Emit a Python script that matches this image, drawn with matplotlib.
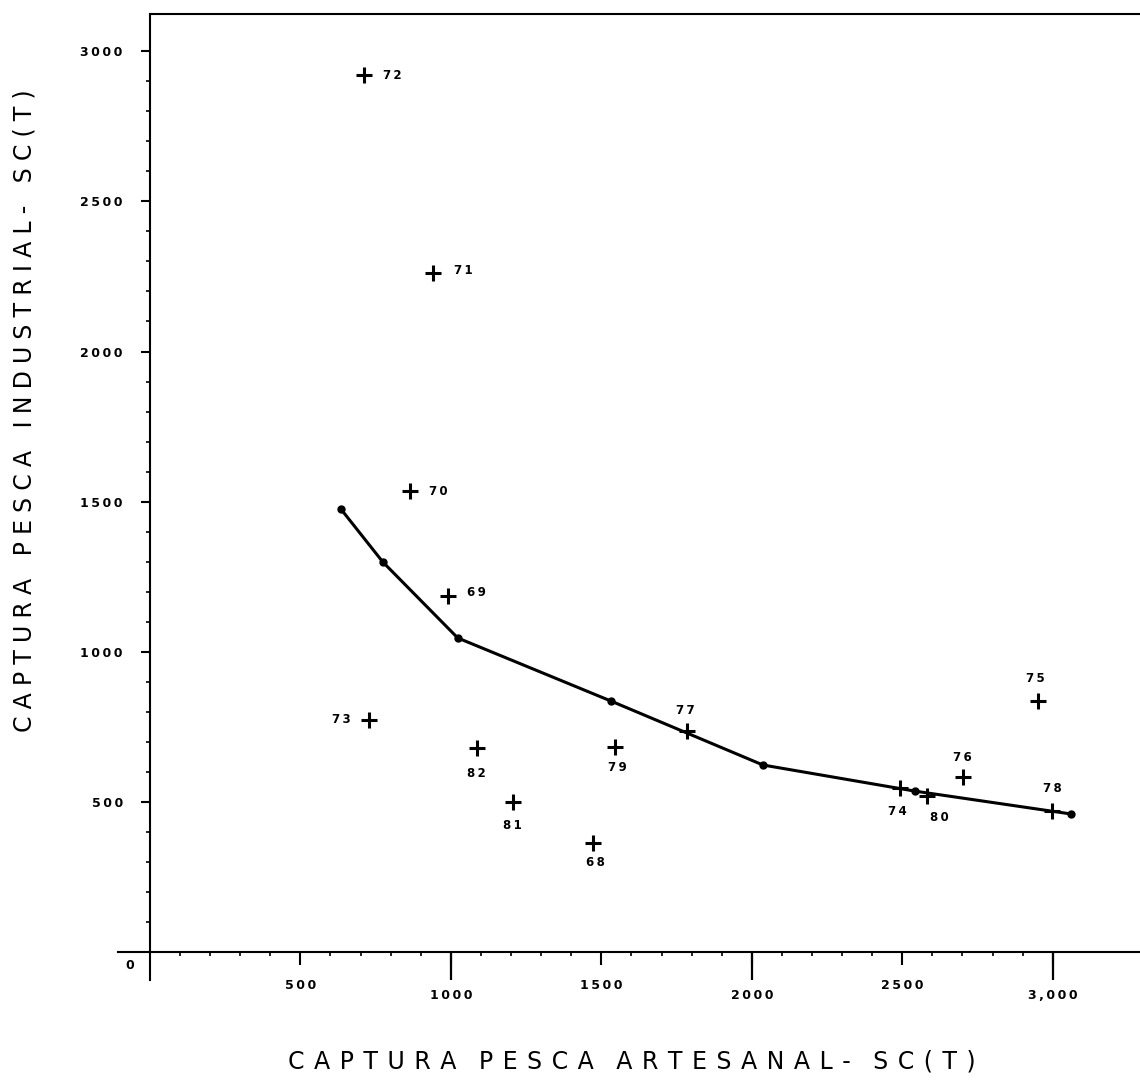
import matplotlib
matplotlib.use('Agg')
import matplotlib.pyplot as plt
from matplotlib.lines import TICKDOWN


# captura anual (t), Santa Catarina: pesca artesanal x pesca industrial
years = ['72', '71', '70', '69', '73', '82', '81', '79', '68', '77', '74', '80', '76', '75', '78']
artesanal = [710, 940, 864, 990, 728, 1086, 1206, 1545, 1472, 1784, 2492, 2581, 2701, 2950, 2997]
industrial = [2920, 2261, 1535, 1185, 773, 679, 500, 683, 363, 736, 546, 519, 583, 836, 470]

# curva ajustada
curve_x = [635, 774, 1023, 1532, 2037, 2542, 3060]
curve_y = [1475, 1299, 1046, 836, 623, 536, 460]

x_ticks = [500, 1000, 1500, 2000, 2500, 3000]
x_tick_labels = ['500', '1000', '1500', '2000', '2500', '3,000']
y_ticks = [500, 1000, 1500, 2000, 2500, 3000]
y_tick_labels = ['500', '1000', '1500', '2000', '2500', '3000']

x_title = 'CAPTURA PESCA ARTESANAL- SC(T)'
y_title = 'CAPTURA PESCA INDUSTRIAL- SC(T)'

# label offsets in points (dx, dy, ha)
LABEL_POS = {
    '72': (14, 0, 'left'), '71': (15, 2, 'left'), '70': (14, 0, 'left'),
    '69': (14, 3, 'left'), '73': (-13, 0, 'right'),
    '82': (0, -18, 'center'), '81': (0, -17, 'center'), '79': (2, -14.5, 'center'),
    '68': (2, -14, 'center'), '77': (-1, 14.5, 'center'), '74': (-1.5, -17, 'center'),
    '80': (9.5, -15, 'center'), '76': (0, 14, 'center'), '75': (-1.5, 16, 'center'),
    '78': (0.5, 16, 'center'),
}

THIN = '\u2009'
HAIR = '\u200a'


def spaced(text, gap=THIN, word_gap='   '):
    return word_gap.join(gap.join(w) for w in text.split(' '))


def main():
    fig = plt.figure(figsize=(11.4, 10.83), dpi=100)
    ax = fig.add_axes([118 / 1140, 103 / 1083, 1022 / 1140, 966 / 1083])
    ax.set_xlim(-106, 3290)
    ax.set_ylim(-93, 3124)

    ax.plot(curve_x, curve_y, '-o', color='black', lw=2.2, ms=5)
    ax.plot(artesanal, industrial, '+', color='black', ms=12, mew=2.2, linestyle='none')
    for name, x, y in zip(years, artesanal, industrial):
        dx, dy, ha = LABEL_POS[name]
        ax.annotate(spaced(name), (x, y), xytext=(dx, dy), textcoords='offset points',
                    ha=ha, va='center', fontsize=8.5, fontweight='bold')

    for side in ['left', 'bottom']:
        ax.spines[side].set_position(('data', 0))
        ax.spines[side].set_linewidth(1.5)
    ax.spines['right'].set_visible(False)
    ax.spines['top'].set_linewidth(1.5)
    ax.spines['top'].set_bounds(0, 3290)

    ax.set_xticks(x_ticks, [spaced(t) for t in x_tick_labels], fontsize=9, fontweight='bold')
    ax.set_yticks(y_ticks, [spaced(t) for t in y_tick_labels], fontsize=9, fontweight='bold')
    minor = [v for v in range(100, 3000, 100) if v % 500]
    ax.set_xticks(minor, minor=True)
    ax.set_yticks(minor, minor=True)
    ax.tick_params(axis='x', which='major', direction='out', length=9.4, width=1.5, pad=10)
    ax.tick_params(axis='y', which='major', direction='out', length=6.5, width=1.5, pad=13)
    ax.tick_params(which='minor', direction='out', length=3, width=1.2)
    # thousands: longer tick mark and label set lower
    thousands = [v for v in x_ticks if v % 1000 == 0]
    for tick, v in zip(ax.xaxis.get_major_ticks(), x_ticks):
        if v % 1000 == 0:
            tick.set_pad(17)
    ax.plot(thousands, [0] * len(thousands), linestyle='none', marker=TICKDOWN,
            ms=20, mew=1.6, color='black', clip_on=False)

    ax.annotate('0', (0, 0), xytext=(-14.4, -9.4), textcoords='offset points',
                ha='center', va='center', fontsize=9, fontweight='bold')

    fig.text(632 / 1140, 1 - 1062 / 1083, spaced(x_title, THIN + THIN, '   '), fontsize=17,
             ha='center', va='center')
    fig.text(25 / 1140, 1 - 411 / 1083, spaced(y_title, THIN + HAIR, '   '), fontsize=17,
             ha='center', va='center', rotation=90)

    fig.savefig('out.png')
    plt.close(fig)


if __name__ == '__main__':
    main()
